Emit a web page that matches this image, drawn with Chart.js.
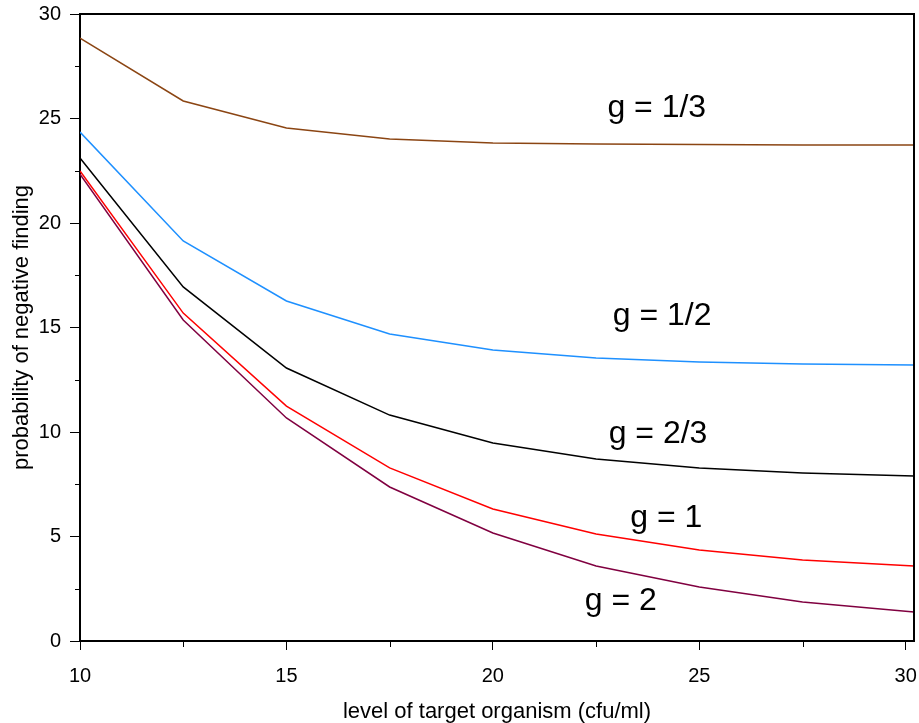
<!DOCTYPE html>
<html lang="en">
  <head>
    <meta charset="UTF-8" />
    <title>probability of negative finding</title>
    <script src="https://cdn.jsdelivr.net/npm/chart.js"></script>
    <style>
      html, body { margin: 0; padding: 0; background: #fff; }
      #wrap { width: 919px; height: 723px; }
    </style>
  </head>
  <body>
    <div id="wrap"><canvas id="myChart"></canvas></div>

    <script>
      // data
      const levels = [10, 12.5, 15, 17.5, 20, 22.5, 25, 27.5, 30.2];
      const gThird = [28.85, 25.84, 24.55, 24.02, 23.83, 23.78, 23.76, 23.73, 23.73];
      const gHalf = [24.35, 19.14, 16.27, 14.69, 13.92, 13.54, 13.35, 13.25, 13.21];
      const gTwoThirds = [23.11, 16.94, 13.06, 10.81, 9.47, 8.71, 8.28, 8.04, 7.89];
      const gOne = [22.49, 15.69, 11.24, 8.28, 6.32, 5.12, 4.35, 3.88, 3.59];
      const gTwo = [22.34, 15.36, 10.67, 7.37, 5.17, 3.59, 2.58, 1.87, 1.39];

      const xTicks = [10, 15, 20, 25, 30];
      const xMinor = [12.5, 17.5, 22.5, 27.5];
      const yTicks = [0, 5, 10, 15, 20, 25, 30];
      const yMinor = [2.5, 7.5, 12.5, 17.5, 22.5, 27.5];

      const curveNames = ["g = 1/3", "g = 1/2", "g = 2/3", "g = 1", "g = 2"];
      const labelX = [23.97, 24.1, 24.0, 24.2, 23.1];
      const labelY = [25.5, 15.55, 9.9, 5.9, 1.9];

      const colors = ["#8b4513", "#1e90ff", "#000000", "#ff0000", "#800040"];
      const series = [gThird, gHalf, gTwoThirds, gOne, gTwo];

      const fontFamily = "'Liberation Sans', Arial, sans-serif";

      // frame, minor ticks and curve labels
      const extras = {
        id: "extras",
        afterDraw(chart) {
          const { ctx, chartArea, scales } = chart;
          ctx.save();
          ctx.strokeStyle = "#000";
          ctx.lineWidth = 2;
          ctx.beginPath();
          ctx.moveTo(chartArea.left, chartArea.top);
          ctx.lineTo(chartArea.right, chartArea.top);
          ctx.lineTo(chartArea.right, chartArea.bottom);
          ctx.stroke();

          ctx.lineWidth = 1;
          yMinor.forEach((v) => {
            const y = Math.round(scales.y.getPixelForValue(v)) + 0.5;
            ctx.beginPath();
            ctx.moveTo(chartArea.left - 5, y);
            ctx.lineTo(chartArea.left, y);
            ctx.stroke();
          });
          xMinor.forEach((v) => {
            const x = Math.round(scales.x.getPixelForValue(v)) + 0.5;
            ctx.beginPath();
            ctx.moveTo(x, chartArea.bottom);
            ctx.lineTo(x, chartArea.bottom + 6);
            ctx.stroke();
          });

          ctx.fillStyle = "#000";
          ctx.font = "32px " + fontFamily;
          ctx.textAlign = "center";
          ctx.textBaseline = "middle";
          curveNames.forEach((t, i) => {
            ctx.fillText(
              t,
              scales.x.getPixelForValue(labelX[i]),
              scales.y.getPixelForValue(labelY[i])
            );
          });
          ctx.restore();
        }
      };

      const data = {
        datasets: series.map((s, i) => ({
          label: curveNames[i],
          data: levels.map((x, j) => ({ x: x, y: s[j] })),
          borderColor: colors[i],
          borderWidth: 1.5,
          pointRadius: 0,
          tension: 0,
          fill: false
        }))
      };

      const config = {
        type: "line",
        data: data,
        options: {
          responsive: false,
          animation: false,
          layout: { padding: { left: 0, top: 14, right: 5, bottom: 0 } },
          plugins: {
            legend: { display: false },
            tooltip: { enabled: false }
          },
          scales: {
            x: {
              type: "linear",
              min: 10,
              max: 30.2,
              afterBuildTicks: (scale) => {
                scale.ticks = xTicks.map((v) => ({ value: v }));
              },
              afterFit: (scale) => {
                scale.height = 82;
                scale.paddingLeft = 0;
                scale.paddingRight = 0;
              },
              grid: {
                drawOnChartArea: false,
                drawTicks: true,
                tickLength: 9,
                tickColor: "#000",
                tickWidth: 1
              },
              border: { display: true, color: "#000", width: 2 },
              ticks: {
                color: "#000",
                padding: 14,
                maxRotation: 0,
                font: { family: fontFamily, size: 20 }
              },
              title: {
                display: true,
                text: "level of target organism (cfu/ml)",
                color: "#000",
                padding: { top: 0, bottom: 0 },
                font: { family: fontFamily, size: 22, lineHeight: 1 }
              }
            },
            y: {
              type: "linear",
              min: 0,
              max: 30,
              afterBuildTicks: (scale) => {
                scale.ticks = yTicks.map((v) => ({ value: v }));
              },
              afterFit: (scale) => {
                scale.width = 80;
                scale.paddingTop = 0;
                scale.paddingBottom = 0;
              },
              grid: {
                drawOnChartArea: false,
                drawTicks: true,
                tickLength: 10,
                tickColor: "#000",
                tickWidth: 1
              },
              border: { display: true, color: "#000", width: 2 },
              ticks: {
                color: "#000",
                padding: 9,
                font: { family: fontFamily, size: 20 }
              },
              title: {
                display: true,
                text: "probability of negative finding",
                color: "#000",
                padding: { top: 11, bottom: 0 },
                font: { family: fontFamily, size: 22, lineHeight: 1 }
              }
            }
          }
        },
        plugins: [extras]
      };

      const canvas = document.getElementById("myChart");
      canvas.width = 919;
      canvas.height = 723;
      const myChart = new Chart(canvas, config);
    </script>
  </body>
</html>
